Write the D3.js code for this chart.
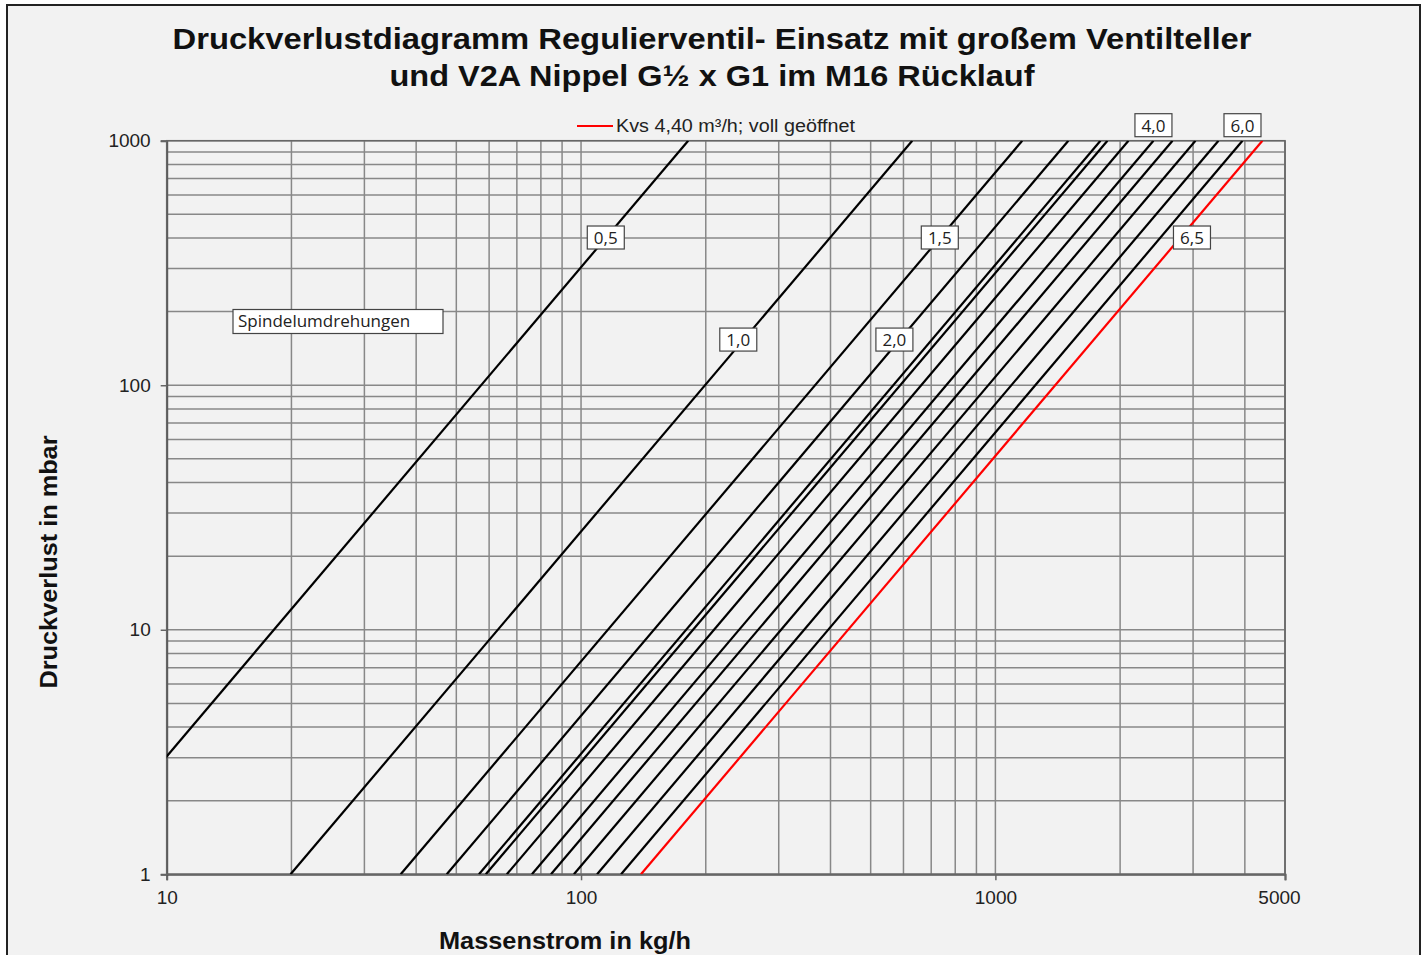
<!DOCTYPE html>
<html>
<head>
<meta charset="utf-8">
<script src="https://cdn.jsdelivr.net/npm/d3@7"></script>
<style>
  body { margin: 0; background: #fff; }
  svg { display: block; }
</style>
</head>
<body>
<script>
// Spindle turns for each curve, with the mass flow read at 1 mbar and at 1000 mbar
var turns = ["0,5", "1,0", "1,5", "2,0", "2,5", "3,0", "3,5", "4,0", "4,5", "5,0", "5,5", "6,0", "6,5"];
var flowAt1 = [5.74, 19.9, 36.7, 47.4, 56.7, 58.9, 66.2, 76.1, 84.6, 96.1, 109.3, 124.9, 139.5];
var flowAt1000 = [181.4, 630, 1161, 1500, 1793, 1864, 2095, 2407, 2676, 3040, 3455, 3948, 4410];

// labelled curves and the pressure (mbar) where each label sits
var labelTurns = ["0,5", "1,0", "1,5", "2,0", "4,0", "6,0", "6,5"];
var labelPressure = [400, 153, 400, 153, 1000, 1000, 400];

var xTicks = [10, 100, 1000, 5000];
var yTicks = [1, 10, 100, 1000];

var legendText = "Kvs 4,40 m³/h; voll geöffnet";
var titleLines = ["Druckverlustdiagramm Regulierventil- Einsatz mit großem Ventilteller",
                  "und V2A Nippel G½ x G1 im M16 Rücklauf"];

var svgWidth = 1424;
var svgHeight = 955;

var margin = { top: 140.7, right: 139, bottom: 80.7, left: 166.7 };
var chartWidth = svgWidth - margin.left - margin.right;
var chartHeight = svgHeight - margin.top - margin.bottom;

var svg = d3.select("body")
  .append("svg")
  .attr("width", svgWidth)
  .attr("height", svgHeight)
  .style("font-family", "'Liberation Sans', Arial, sans-serif");

// frame
svg.append("rect")
  .attr("x", 7).attr("y", 5)
  .attr("width", 1413).attr("height", 960)
  .attr("fill", "#f2f2f2")
  .attr("stroke", "#222")
  .attr("stroke-width", 2);

var chartGroup = svg.append("g")
  .attr("transform", `translate(${margin.left}, ${margin.top})`);

var xScale = d3.scaleLog().domain([10, 5000]).range([0, chartWidth]);
var yScale = d3.scaleLog().domain([1, 1000]).range([chartHeight, 0]);

// minor + major gridlines
var xGrid = [];
[10, 100, 1000].forEach(function(d) {
  for (var i = 1; i < 10; i++) if (d * i <= 5000) xGrid.push(d * i);
});
xGrid.push(5000);
var yGrid = [];
[1, 10, 100].forEach(function(d) {
  for (var i = 1; i < 10; i++) yGrid.push(d * i);
});
yGrid.push(1000);

chartGroup.selectAll(".hgrid")
  .data(yGrid)
  .enter().append("line")
  .attr("x1", 0).attr("x2", chartWidth)
  .attr("y1", d => yScale(d)).attr("y2", d => yScale(d))
  .attr("stroke", "#888")
  .attr("stroke-width", 1.5);

chartGroup.selectAll(".vgrid")
  .data(xGrid)
  .enter().append("line")
  .attr("y1", 0).attr("y2", chartHeight)
  .attr("x1", d => xScale(d)).attr("x2", d => xScale(d))
  .attr("stroke", "#888")
  .attr("stroke-width", 1.5);

// axes
var xAxis = d3.axisBottom(xScale).tickValues(xTicks).tickFormat(d3.format("d")).tickSize(6).tickPadding(10);
var yAxis = d3.axisLeft(yScale).tickValues(yTicks).tickFormat(d3.format("d")).tickSize(6).tickPadding(10);

var gx = chartGroup.append("g")
  .attr("transform", `translate(0, ${chartHeight})`)
  .call(xAxis);
var gy = chartGroup.append("g").call(yAxis);

[gx, gy].forEach(function(g) {
  g.select(".domain").attr("stroke", "#555").attr("stroke-width", 2);
  g.selectAll(".tick line").attr("stroke", "#666").attr("stroke-width", 1.5);
  g.selectAll(".tick text")
    .attr("fill", "#222")
    .style("font-size", "19px")
    .style("font-family", "'Liberation Sans', Arial, sans-serif");
});
gx.select(".tick:last-of-type text").attr("dx", -6);

// plot border (top and right)
chartGroup.append("rect")
  .attr("width", chartWidth).attr("height", chartHeight)
  .attr("fill", "none")
  .attr("stroke", "#666")
  .attr("stroke-width", 1.5);

// clip curves to the plot area
chartGroup.append("clipPath").attr("id", "plotClip")
  .append("rect").attr("width", chartWidth).attr("height", chartHeight);

var curves = turns.map(function(t, i) {
  return { turns: t, points: [{ flow: flowAt1[i], dp: 1 }, { flow: flowAt1000[i], dp: 1000 }] };
});

var drawLine = d3.line()
  .x(d => xScale(d.flow))
  .y(d => yScale(d.dp));

chartGroup.append("g")
  .attr("clip-path", "url(#plotClip)")
  .selectAll("path")
  .data(curves)
  .enter().append("path")
  .attr("d", d => drawLine(d.points))
  .attr("fill", "none")
  .attr("stroke", (d, i) => i === curves.length - 1 ? "#ff0000" : "#000")
  .attr("stroke-width", 2.2);

// curve labels
function flowAt(i, dp) {
  var a = Math.log10(flowAt1[i]), b = Math.log10(flowAt1000[i]);
  return Math.pow(10, a + (b - a) * Math.log10(dp) / 3);
}

labelTurns.forEach(function(t, j) {
  var i = turns.indexOf(t);
  var cx = xScale(flowAt(i, labelPressure[j]));
  var cy = yScale(labelPressure[j]);
  if (labelPressure[j] >= 1000) cy -= 15;      // labels sitting above the plot
  else if (labelPressure[j] < 200) cx -= 5;
  if (i === turns.length - 1) cx += 12;         // red curve label sits to its right
  var g = chartGroup.append("g").attr("transform", `translate(${cx}, ${cy})`);
  g.append("rect")
    .attr("x", -18.5).attr("y", -12)
    .attr("width", 37).attr("height", 23)
    .attr("fill", "#fff")
    .attr("stroke", "#444")
    .attr("stroke-width", 1.2);
  g.append("text")
    .attr("text-anchor", "middle")
    .attr("y", 6)
    .attr("fill", "#222")
    .style("font-family", "'Open Sans', 'Noto Sans', sans-serif")
    .style("font-size", "17px")
    .text(t);
});

// "Spindelumdrehungen" note box
svg.append("rect")
  .attr("x", 233).attr("y", 309.5)
  .attr("width", 210).attr("height", 24)
  .attr("fill", "#fff")
  .attr("stroke", "#444")
  .attr("stroke-width", 1.2);
svg.append("text")
  .attr("x", 238).attr("y", 327)
  .attr("fill", "#222")
  .style("font-family", "'Open Sans', 'Noto Sans', sans-serif")
  .style("font-size", "17px")
  .text("Spindelumdrehungen");

// legend
svg.append("line")
  .attr("x1", 577).attr("x2", 613)
  .attr("y1", 126).attr("y2", 126)
  .attr("stroke", "#ff0000")
  .attr("stroke-width", 2.2);
svg.append("text")
  .attr("x", 616).attr("y", 132)
  .attr("fill", "#222")
  .style("font-size", "18px")
  .attr("textLength", 239)
  .attr("lengthAdjust", "spacingAndGlyphs")
  .text(legendText);

// title
var titleWidths = [1079, 645];
svg.selectAll(".title")
  .data(titleLines)
  .enter().append("text")
  .attr("x", 712)
  .attr("y", (d, i) => 49 + i * 37)
  .attr("text-anchor", "middle")
  .attr("fill", "#111")
  .style("font-weight", "bold")
  .style("font-size", "30px")
  .attr("textLength", (d, i) => titleWidths[i])
  .attr("lengthAdjust", "spacingAndGlyphs")
  .text(d => d);

// axis titles
svg.append("text")
  .attr("x", 565).attr("y", 949)
  .attr("text-anchor", "middle")
  .attr("fill", "#111")
  .style("font-weight", "bold")
  .style("font-size", "24px")
  .attr("textLength", 252)
  .attr("lengthAdjust", "spacingAndGlyphs")
  .text("Massenstrom in kg/h");

svg.append("text")
  .attr("transform", "translate(57, 562) rotate(-90)")
  .attr("text-anchor", "middle")
  .attr("fill", "#111")
  .style("font-weight", "bold")
  .style("font-size", "24px")
  .attr("textLength", 253)
  .attr("lengthAdjust", "spacingAndGlyphs")
  .text("Druckverlust in mbar");
</script>
</body>
</html>
